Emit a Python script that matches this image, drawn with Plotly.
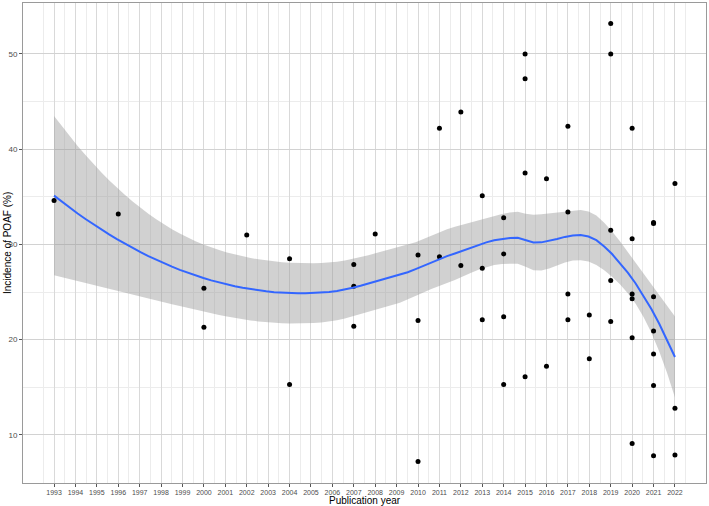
import numpy as np
import plotly.graph_objects as go

# publication year and POAF incidence (%)
year = [1993, 1996, 2000, 2000, 2002, 2004, 2004, 2007, 2007, 2007, 2008,
        2010, 2010, 2010, 2011, 2011, 2012, 2012, 2013, 2013, 2013,
        2014, 2014, 2014, 2014, 2015, 2015, 2015, 2015, 2016, 2016,
        2017, 2017, 2017, 2017, 2018, 2018, 2019, 2019, 2019, 2019, 2019,
        2020, 2020, 2020, 2020, 2020, 2020,
        2021, 2021, 2021, 2021, 2021, 2021, 2021, 2022, 2022, 2022]
incidence = [34.6, 33.2, 25.4, 21.3, 31.0, 28.5, 15.3, 27.9, 25.6, 21.4, 31.1,
             28.9, 22.0, 7.2, 28.7, 42.2, 27.8, 43.9, 27.5, 22.1, 35.1,
             29.0, 22.4, 15.3, 32.8, 50.0, 47.4, 37.5, 16.1, 36.9, 17.2,
             42.4, 33.4, 24.8, 22.1, 22.6, 18.0, 53.2, 50.0, 31.5, 26.2, 21.9,
             42.2, 30.6, 24.8, 24.3, 20.2, 9.1,
             32.3, 32.2, 24.5, 20.9, 18.5, 15.2, 7.8, 36.4, 12.8, 7.9]
year_ticks = list(range(1993, 2023))

x = np.array(year, dtype=float)
y = np.array(incidence, dtype=float)
n = len(x)
span = 0.75


def local_rows(x0):
    # local quadratic with tricube weights: rows giving value and slope at x0
    d = np.abs(x - x0)
    q = int(np.floor(n * span))
    h = np.sort(d)[q - 1]
    u = np.clip(d / h, 0, 1)
    w = (1 - u ** 3) ** 3
    X = np.column_stack([np.ones(n), x - x0, (x - x0) ** 2])
    XtW = X.T * w
    B = np.linalg.solve(XtW @ X, XtW)
    return B[0], B[1]


# kd-tree vertices like R's loess(surface = "interpolate")
xsort = np.sort(x)
fc = int(np.floor(n * span * 0.2))
pad = 0.005 * (xsort[-1] - xsort[0])
verts = {xsort[0] - pad, xsort[-1] + pad}


def split(lo_i, hi_i):
    if hi_i - lo_i + 1 <= fc:
        return
    m = (lo_i + hi_i) // 2
    off = 0
    while lo_i <= m + off < hi_i:
        if xsort[m + off] == xsort[m + off + 1]:
            off = -off
            if off >= 0:
                off += 1
        else:
            break
    else:
        return
    m += off
    v = (xsort[m] + xsort[m + 1]) / 2
    verts.add(v)
    split(lo_i, m)
    split(m + 1, hi_i)


split(0, n - 1)
vx = np.array(sorted(verts))
vrows = [local_rows(v) for v in vx]


def interp_row(x0):
    k = min(max(np.searchsorted(vx, x0) - 1, 0), len(vx) - 2)
    a, b = vx[k], vx[k + 1]
    hh = b - a
    t = (x0 - a) / hh
    h00 = 2 * t ** 3 - 3 * t ** 2 + 1
    h10 = t ** 3 - 2 * t ** 2 + t
    h01 = -2 * t ** 3 + 3 * t ** 2
    h11 = t ** 3 - t ** 2
    return (h00 * vrows[k][0] + h10 * hh * vrows[k][1]
            + h01 * vrows[k + 1][0] + h11 * hh * vrows[k + 1][1])


# smooth with a +/- 1 standard error band
L = np.array([interp_row(v) for v in x])
res = y - L @ y
M = (np.eye(n) - L).T @ (np.eye(n) - L)
s = np.sqrt(np.sum(res ** 2) / np.trace(M))

xs = np.linspace(x.min(), x.max(), 80)
rows = np.array([interp_row(v) for v in xs])
fit = rows @ y
se = s * np.sqrt(np.sum(rows ** 2, axis=1))
lo, hi = fit - se, fit + se

fig = go.Figure()
fig.add_trace(go.Scatter(x=np.concatenate([xs, xs[::-1]]), y=np.concatenate([hi, lo[::-1]]),
                         fill="toself", fillcolor="rgba(153,153,153,0.45)",
                         line=dict(width=0), hoverinfo="skip", showlegend=False))
fig.add_trace(go.Scatter(x=year, y=incidence, mode="markers",
                         marker=dict(color="black", size=5), showlegend=False))
fig.add_trace(go.Scatter(x=xs, y=fit, mode="lines",
                         line=dict(color="#3366FF", width=2), showlegend=False))

fig.update_layout(
    width=709, height=506,
    margin=dict(l=23, r=3, t=3, b=23),
    plot_bgcolor="white", paper_bgcolor="white",
    font=dict(family="Liberation Sans, Arial, sans-serif", size=8, color="#4d4d4d"),
    annotations=[
        dict(text="Publication year", xref="paper", yref="paper", x=0.5, y=0,
             yshift=-17, yanchor="middle", showarrow=False,
             font=dict(size=10, color="black")),
        dict(text="Incidence of POAF (%)", xref="paper", yref="paper", x=0, y=0.5,
             xshift=-16, xanchor="center", textangle=-90, showarrow=False,
             font=dict(size=10, color="black")),
    ],
)
fig.update_xaxes(
    range=[1991.55, 2023.45], tickmode="array", tickvals=year_ticks,
    ticks="outside", ticklen=3, tickcolor="#555", tickfont=dict(size=7),
    showgrid=True, gridcolor="#d9d9d9", gridwidth=1,
    minor=dict(tickmode="array", tickvals=[v + 0.5 for v in [1992] + year_ticks],
               showgrid=True, gridcolor="#ececec", gridwidth=1, ticks=""),
    showline=True, linecolor="#9a9a9a", mirror=True, zeroline=False, automargin=False,
)
fig.update_yaxes(
    range=[4.95, 55.35], tickvals=[10, 20, 30, 40, 50],
    ticks="outside", ticklen=3, tickcolor="#555", tickfont=dict(size=8),
    showgrid=True, gridcolor="#d2d2d2", gridwidth=1,
    minor=dict(tickvals=[15, 25, 35, 45], showgrid=True, gridcolor="#ececec", ticks=""),
    showline=True, linecolor="#9a9a9a", mirror=True, zeroline=False, automargin=False,
)

fig.write_html("out.html", config={"displayModeBar": False},
               post_script="document.body.style.margin='0';")
